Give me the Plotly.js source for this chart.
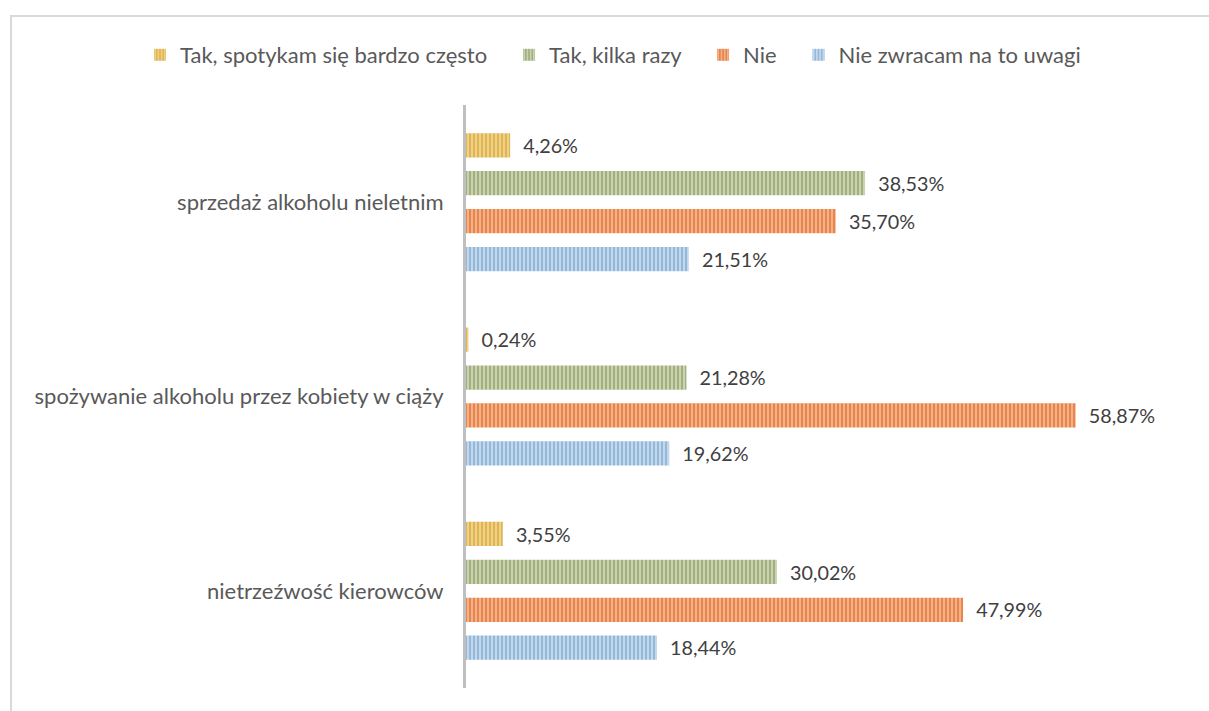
<!DOCTYPE html>
<html>
<head>
<meta charset="utf-8">
<script src="https://cdn.plot.ly/plotly-3.0.1.min.js"></script>
<style>
  html, body { margin: 0; background: #fff; overflow: hidden; }
  #chart { width: 1209px; height: 711px; }
  #frame {
    position: absolute; left: 10px; top: 15px;
    width: 1400px; height: 900px;
    border: 2px solid #D9D9D9; pointer-events: none;
  }
</style>
</head>
<body>
<div id="chart"></div>
<div id="frame"></div>
<script>
var categories = [
  "sprzedaż alkoholu nieletnim",
  "spożywanie alkoholu przez kobiety w ciąży",
  "nietrzeźwość kierowców"
];
var seriesNames = [
  "Tak, spotykam się bardzo często",
  "Tak, kilka razy",
  "Nie",
  "Nie zwracam na to uwagi"
];
var takCzesto = [4.26, 0.24, 3.55];
var takKilka = [38.53, 21.28, 30.02];
var nie = [35.70, 58.87, 47.99];
var nieZwracam = [21.51, 19.62, 18.44];

var seriesValues = [takCzesto, takKilka, nie, nieZwracam];
var baseColors = ["#E0B550", "#A3B07E", "#E9844A", "#93B8DA"];
var stripeColors = ["#F2D99A", "#D3DBBE", "#F5BE9C", "#CFE0F0"];

var font = "Lato, 'Open Sans', sans-serif";
// extra room after each legend entry (Excel-like spacing)
var legendPad = "\u00a0\u00a0\u00a0";

var traces = seriesValues.map(function (vals, i) {
  return {
    type: "bar",
    orientation: "h",
    name: seriesNames[i] + (i < seriesNames.length - 1 ? legendPad : ""),
    y: categories,
    x: vals,
    marker: {
      color: baseColors[i],
      line: { width: 0 },
      pattern: {
        shape: "|",
        size: 4,
        solidity: 0.4,
        bgcolor: baseColors[i],
        fgcolor: stripeColors[i],
        fillmode: "replace"
      }
    },
    texttemplate: "\u00a0\u00a0%{x:.2f}%",
    textposition: "outside",
    cliponaxis: false,
    textfont: { family: font, size: 22, color: "#404040" },
    hoverinfo: "x+name"
  };
});

// plot area: left 466, width 725, top 105, height 583
var layout = {
  width: 1209,
  height: 711,
  margin: { l: 466, r: 18, t: 105, b: 23 },
  paper_bgcolor: "#FFFFFF",
  plot_bgcolor: "#FFFFFF",
  separators: ", ",
  barmode: "group",
  bargap: 0.22,
  bargroupgap: 0.36,
  font: { family: font, size: 22, color: "#595959" },
  showlegend: true,
  legend: {
    orientation: "h",
    xref: "paper",
    yref: "paper",
    x: (140 - 466) / 725,
    y: 1 + (105 - 55) / 583,
    xanchor: "left",
    yanchor: "middle",
    itemwidth: 30,
    font: { family: font, size: 22, color: "#595959" },
    traceorder: "normal"
  },
  xaxis: {
    range: [0, 70],
    showgrid: false,
    zeroline: false,
    showline: false,
    showticklabels: false,
    ticks: ""
  },
  yaxis: {
    autorange: "reversed",
    showgrid: false,
    zeroline: false,
    showline: true,
    linecolor: "#BFBFBF",
    linewidth: 3,
    ticks: "",
    ticklabelstandoff: 15,
    tickfont: { family: font, size: 22, color: "#595959" }
  }
};

Plotly.newPlot("chart", traces, layout, { displayModeBar: false, staticPlot: true });
</script>
</body>
</html>
